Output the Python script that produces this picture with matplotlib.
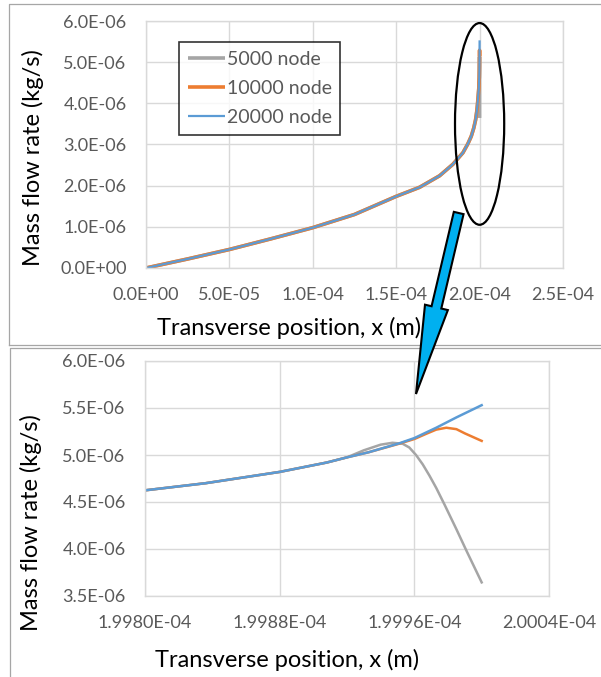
import matplotlib.pyplot as plt
from matplotlib.patches import Ellipse, FancyArrow
from matplotlib.lines import Line2D
from matplotlib.ticker import FuncFormatter

plt.rcParams['font.family'] = ['Lato', 'DejaVu Sans']

# transverse position in 1e-4 m, mass flow rate in 1e-6 kg/s
x_bulk = [0.0, 0.25, 0.5, 0.75, 1.0, 1.25, 1.5, 1.64, 1.76, 1.84, 1.90, 1.93, 1.95,
          1.965, 1.976, 1.983, 1.988, 1.995]
m_bulk = [0.0, 0.22, 0.45, 0.71, 0.98, 1.30, 1.74, 1.96, 2.24, 2.52, 2.80, 3.02, 3.20,
          3.40, 3.60, 3.80, 4.00, 4.35]

# near-wall region where all meshes still agree
x_wall = [1.99800, 1.99836, 1.99880, 1.99908, 1.99920]
m_wall = [4.624, 4.70, 4.82, 4.92, 4.975]

# last few points next to the wall, per mesh
x_tip_5000 = [1.99930, 1.99940, 1.99947, 1.99953, 1.99957, 1.99961, 1.99965,
              1.99969, 1.99973, 1.99978, 1.99985, 1.99991, 2.00000]
m_tip_5000 = [5.05, 5.11, 5.13, 5.12, 5.08, 5.00, 4.90, 4.78, 4.65, 4.47, 4.21, 3.98, 3.645]
x_tip_10000 = [1.99933, 1.99951, 1.99960, 1.99967, 1.99973, 1.99979, 1.99985, 1.99990, 1.99995, 2.00000]
m_tip_10000 = [5.03, 5.12, 5.17, 5.225, 5.27, 5.29, 5.275, 5.23, 5.19, 5.15]
x_tip_20000 = [1.99933, 1.99951, 1.99960, 1.99973, 1.99985, 2.00000]
m_tip_20000 = [5.03, 5.124, 5.18, 5.29, 5.40, 5.53]

labels = ['5000 node', '10000 node', '20000 node']
colors = ['#A5A5A5', '#ED7D31', '#5B9BD5']
top_widths = [2.6, 2.6, 1.6]
tips = [(x_tip_5000, m_tip_5000), (x_tip_10000, m_tip_10000), (x_tip_20000, m_tip_20000)]

W, H = 601, 677
GRID = '#d9d9d9'
TICK = '#595959'
TICK_SIZE = 13
LABEL_SIZE = 17


def px_box(left, top, right, bottom):
    return [left / W, 1 - bottom / H, (right - left) / W, (bottom - top) / H]


def style_axes(ax):
    ax.set_axisbelow(True)
    ax.grid(True, color=GRID, lw=1.0)
    for s in ax.spines.values():
        s.set_color(GRID)
        s.set_linewidth(1.0)
    ax.tick_params(length=0, pad=14, labelsize=TICK_SIZE, labelcolor=TICK)


fig = plt.figure(figsize=(W / 100, H / 100), dpi=100)

# panel frames
frame = '#a6a6a6'
for xs, ys in [([9, 9, W], [345, 4, 4]), ([9, W], [345, 345]),
               ([10, 10, W], [H, 348, 348])]:
    fig.add_artist(Line2D([x / W for x in xs], [1 - y / H for y in ys], color=frame, lw=0.9))

# full profile
ax1 = fig.add_axes(px_box(146, 21, 563, 268))
for lab, col, lw, (xt, mt) in zip(labels, colors, top_widths, tips):
    xs = [v * 1e-4 for v in x_bulk + x_wall + xt]
    ms = [v * 1e-6 for v in m_bulk + m_wall + mt]
    ax1.plot(xs, ms, color=col, lw=lw, label=lab, solid_capstyle='butt')
ax1.set_xlim(0, 2.5e-4)
ax1.set_ylim(0, 6e-6)
ax1.set_xticks([i * 5e-5 for i in range(6)])
ax1.set_yticks([i * 1e-6 for i in range(7)])
ax1.xaxis.set_major_formatter(FuncFormatter(lambda v, p: f'{v:.1E}'))
ax1.yaxis.set_major_formatter(FuncFormatter(lambda v, p: f'{v:.1E}'))
style_axes(ax1)
ax1.set_xlabel('Transverse position, x (m)', fontsize=LABEL_SIZE)
ax1.set_ylabel('Mass flow rate (kg/s)', fontsize=LABEL_SIZE)
ax1.xaxis.set_label_coords((289 - 146) / 417, (268 - 328) / 247)
ax1.yaxis.set_label_coords((33 - 146) / 417, (268 - 158) / 247)
ax1.xaxis.label.set_va('center')
ax1.yaxis.label.set_va('center')
leg = ax1.legend(loc='upper left', bbox_to_anchor=(179 / W, 1 - 42 / H),
                 bbox_transform=fig.transFigure, fontsize=14, frameon=True,
                 fancybox=False, edgecolor='black', borderaxespad=0,
                 handlelength=1.9, handletextpad=0.1, labelspacing=0.62,
                 borderpad=0.45)
leg.get_frame().set_linewidth(1.2)
for t in leg.get_texts():
    t.set_color(TICK)
ax1.add_patch(Ellipse((2.0e-4, 3.5e-6), width=2.95e-5, height=4.9e-6, fill=False,
                      ec='black', lw=1.6, clip_on=False, zorder=6))

# zoom near the wall
ax2 = fig.add_axes(px_box(145, 361, 549, 596))
for lab, col, (xt, mt) in zip(labels, colors, tips):
    xs = [v * 1e-4 for v in x_wall + xt]
    ms = [v * 1e-6 for v in m_wall + mt]
    ax2.plot(xs, ms, color=col, lw=1.8)
ax2.set_xlim(1.9980e-4, 2.0004e-4)
ax2.set_ylim(3.5e-6, 6e-6)
ax2.set_xticks([1.9980e-4, 1.9988e-4, 1.9996e-4, 2.0004e-4])
ax2.set_yticks([3.5e-6 + i * 0.5e-6 for i in range(6)])
ax2.xaxis.set_major_formatter(FuncFormatter(lambda v, p: f'{v:.4E}'))
ax2.yaxis.set_major_formatter(FuncFormatter(lambda v, p: f'{v:.1E}'))
style_axes(ax2)
ax2.set_xlabel('Transverse position, x (m)', fontsize=LABEL_SIZE)
ax2.set_ylabel('Mass flow rate (kg/s)', fontsize=LABEL_SIZE)
ax2.xaxis.set_label_coords((287 - 145) / 404, (596 - 660) / 235)
ax2.yaxis.set_label_coords((31 - 145) / 404, (596 - 523) / 235)
ax2.xaxis.label.set_va('center')
ax2.yaxis.label.set_va('center')

# callout arrow from the ellipse down to the zoomed panel (inches)
arrow = FancyArrow(4.587, (H - 213) / 100, -0.427, -1.81, width=0.10,
                   head_width=0.235, head_length=0.89, length_includes_head=True,
                   transform=fig.dpi_scale_trans, fc='#00B0F0', ec='black', lw=1.5,
                   zorder=10)
fig.add_artist(arrow)

fig.savefig('out.png', dpi=100)
